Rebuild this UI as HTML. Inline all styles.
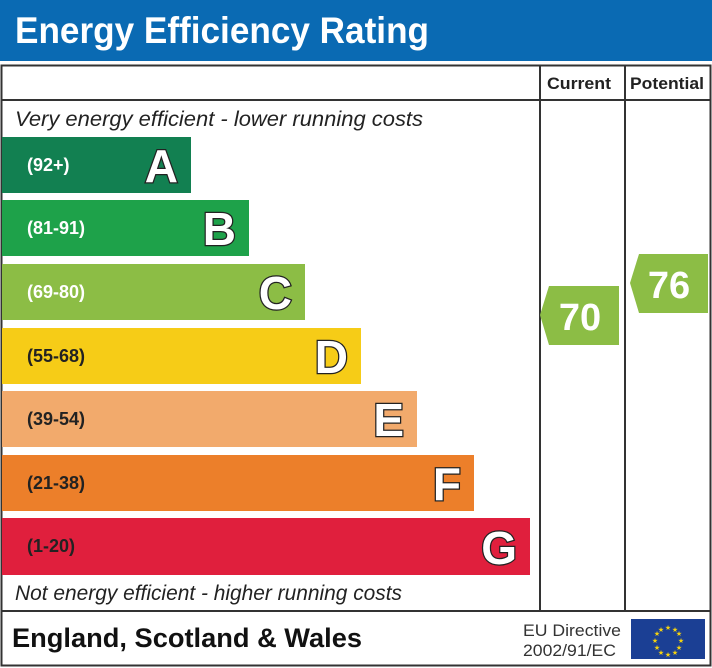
<!DOCTYPE html>
<html><head><meta charset="utf-8"><style>body{margin:0;background:#fff}svg{display:block}</style></head><body>
<svg width="712" height="668" xmlns="http://www.w3.org/2000/svg" font-family="Liberation Sans, sans-serif">
<rect x="0" y="0" width="712" height="61" fill="#0a6ab3"/>
<text x="15" y="43" font-size="37" font-weight="bold" fill="#fff" textLength="414" lengthAdjust="spacingAndGlyphs">Energy Efficiency Rating</text>
<rect x="1.5" y="65.5" width="709" height="600" fill="none" stroke="#333" stroke-width="2"/>
<line x1="540" y1="65" x2="540" y2="611" stroke="#333" stroke-width="2"/>
<line x1="625" y1="65" x2="625" y2="611" stroke="#333" stroke-width="2"/>
<line x1="1" y1="100" x2="711" y2="100" stroke="#333" stroke-width="2"/>
<line x1="1" y1="611" x2="711" y2="611" stroke="#333" stroke-width="2"/>
<text x="547" y="89" font-size="17" font-weight="bold" fill="#222" textLength="64" lengthAdjust="spacingAndGlyphs">Current</text>
<text x="630" y="89" font-size="17" font-weight="bold" fill="#222" textLength="74" lengthAdjust="spacingAndGlyphs">Potential</text>
<text x="15" y="126" font-size="21" font-style="italic" fill="#222" textLength="408" lengthAdjust="spacingAndGlyphs">Very energy efficient - lower running costs</text>
<text x="15" y="600" font-size="21" font-style="italic" fill="#222" textLength="387" lengthAdjust="spacingAndGlyphs">Not energy efficient - higher running costs</text>
<g font-weight="bold">
<rect x="2" y="137" width="189" height="56" fill="#128051"/>
<text x="27" y="171" font-size="18" fill="#fff">(92+)</text>
<text x="178" y="182" font-size="46" fill="#fff" stroke="#222" stroke-width="2.5" paint-order="stroke" text-anchor="end">A</text>
<rect x="2" y="200" width="247" height="56" fill="#1ea24a"/>
<text x="27" y="234" font-size="18" fill="#fff">(81-91)</text>
<text x="236" y="245" font-size="46" fill="#fff" stroke="#222" stroke-width="2.5" paint-order="stroke" text-anchor="end">B</text>
<rect x="2" y="264" width="303" height="56" fill="#8cbd45"/>
<text x="27" y="298" font-size="18" fill="#fff">(69-80)</text>
<text x="292" y="309" font-size="46" fill="#fff" stroke="#222" stroke-width="2.5" paint-order="stroke" text-anchor="end">C</text>
<rect x="2" y="328" width="359" height="56" fill="#f6cc17"/>
<text x="27" y="362" font-size="18" fill="#222">(55-68)</text>
<text x="348" y="373" font-size="46" fill="#fff" stroke="#222" stroke-width="2.5" paint-order="stroke" text-anchor="end">D</text>
<rect x="2" y="391" width="415" height="56" fill="#f2aa6c"/>
<text x="27" y="425" font-size="18" fill="#222">(39-54)</text>
<text x="404" y="436" font-size="46" fill="#fff" stroke="#222" stroke-width="2.5" paint-order="stroke" text-anchor="end">E</text>
<rect x="2" y="455" width="472" height="56" fill="#ec7f2a"/>
<text x="27" y="489" font-size="18" fill="#222">(21-38)</text>
<text x="461" y="500" font-size="46" fill="#fff" stroke="#222" stroke-width="2.5" paint-order="stroke" text-anchor="end">F</text>
<rect x="2" y="518" width="528" height="57" fill="#e01f3d"/>
<text x="27" y="552" font-size="18" fill="#222">(1-20)</text>
<text x="517" y="564" font-size="46" fill="#fff" stroke="#222" stroke-width="2.5" paint-order="stroke" text-anchor="end">G</text>
<polygon points="549,286 619,286 619,345 549,345 540,315" fill="#8cbd45"/>
<text x="580" y="330" font-size="38" fill="#fff" text-anchor="middle">70</text>
<polygon points="639,254 708,254 708,313 639,313 630,283" fill="#8cbd45"/>
<text x="669" y="298" font-size="38" fill="#fff" text-anchor="middle">76</text>
<text x="12" y="647" font-size="27" fill="#111" textLength="350" lengthAdjust="spacingAndGlyphs">England, Scotland &amp; Wales</text>
</g>
<text x="523" y="636" font-size="17" fill="#333" textLength="98" lengthAdjust="spacingAndGlyphs">EU Directive</text>
<text x="523" y="656" font-size="17" fill="#333" textLength="93" lengthAdjust="spacingAndGlyphs">2002/91/EC</text>
<rect x="631" y="619" width="74" height="40" fill="#1b3f94"/>
<g fill="#f4d20f" font-size="7" text-anchor="middle">
<text x="668" y="630">★</text><text x="668" y="657">★</text>
<text x="655" y="643">★</text><text x="681" y="643">★</text>
<text x="675" y="632">★</text><text x="661" y="632">★</text>
<text x="675" y="655">★</text><text x="661" y="655">★</text>
<text x="657" y="636">★</text><text x="679" y="636">★</text>
<text x="657" y="650">★</text><text x="679" y="650">★</text>
</g>
</svg>
</body></html>
